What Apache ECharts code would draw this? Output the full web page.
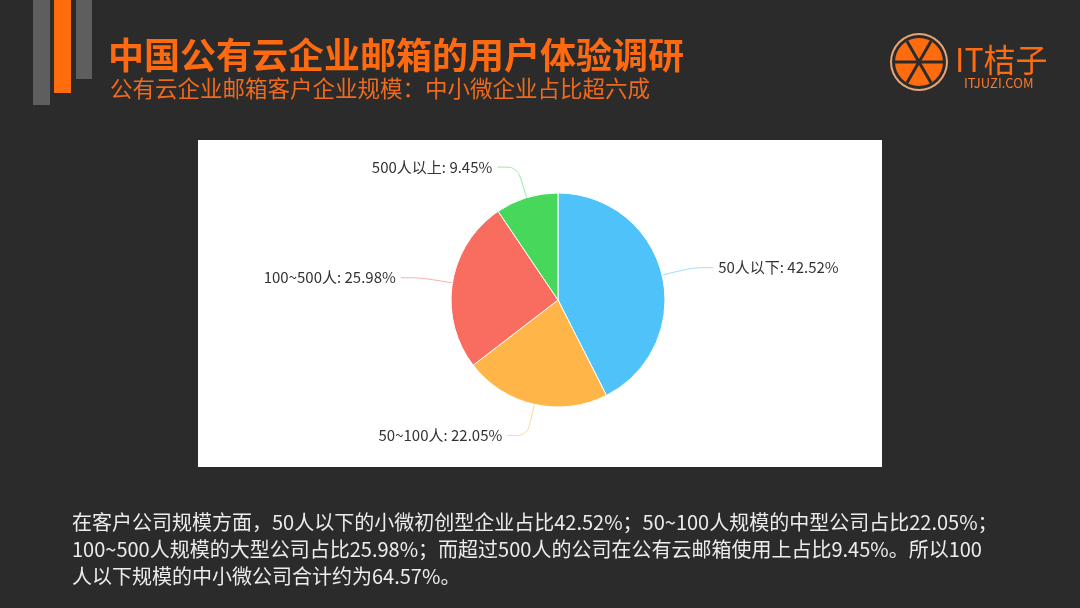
<!DOCTYPE html>
<html>
<head>
<meta charset="utf-8">
<script src="https://cdn.jsdelivr.net/npm/echarts@6/dist/echarts.min.js"></script>
<style>
  html, body { margin: 0; padding: 0; background: #2b2b2b; }
  #chart { width: 1080px; height: 608px; }
</style>
</head>
<body>
<div id="chart"></div>
<script>
// slice data
const categories = ['50人以下', '50~100人', '100~500人', '500人以上']
const values = [42.52, 22.05, 25.98, 9.45]
const colors = ['#50c2fa', '#ffb547', '#f96c60', '#47d75a']

const titleText = '中国公有云企业邮箱的用户体验调研'
const subtitleText = '公有云企业邮箱客户企业规模：中小微企业占比超六成'
const noteLines = [
  '在客户公司规模方面，50人以下的小微初创型企业占比42.52%；50~100人规模的中型公司占比22.05%；',
  '100~500人规模的大型公司占比25.98%；而超过500人的公司在公有云邮箱使用上占比9.45%。所以100',
  '人以下规模的中小微公司合计约为64.57%。'
]

const font = '"Noto Sans CJK SC", "Noto Sans", sans-serif'
const chart = echarts.init(document.getElementById('chart'))

// logo spokes
const cx = 919, cy = 62
const spokes = [0, 60, 120].map(a => {
  const r = 24, rad = a * Math.PI / 180
  return {
    type: 'line',
    shape: { x1: cx - r * Math.cos(rad), y1: cy - r * Math.sin(rad), x2: cx + r * Math.cos(rad), y2: cy + r * Math.sin(rad) },
    style: { stroke: '#2b2b2b', lineWidth: 3 },
    z: 12
  }
})

const graphics = [
  // left bars
  { type: 'rect', shape: { x: 33, y: 0, width: 17, height: 105 }, style: { fill: '#5e5e5e' } },
  { type: 'rect', shape: { x: 54, y: 0, width: 17, height: 93 }, style: { fill: '#ff6c0c' } },
  { type: 'rect', shape: { x: 76, y: 0, width: 16, height: 79 }, style: { fill: '#5e5e5e' } },
  // titles
  { type: 'text', x: 108, y: 55, style: { text: titleText, fill: '#ff6a10', font: 'bold 36px ' + font, textVerticalAlign: 'middle' } },
  { type: 'text', x: 110, y: 88, style: { text: subtitleText, fill: '#f06a1e', font: '22.5px ' + font, textVerticalAlign: 'middle' } },
  // logo
  { type: 'circle', shape: { cx: cx, cy: cy, r: 29 }, style: { fill: '#e8a577' }, z: 10 },
  { type: 'circle', shape: { cx: cx, cy: cy, r: 27 }, style: { fill: '#2b2b2b' }, z: 10 },
  { type: 'circle', shape: { cx: cx, cy: cy, r: 24 }, style: { fill: '#ff6c10' }, z: 11 },
  ...spokes,
  { type: 'text', x: 955, y: 60, style: { text: 'IT桔子', fill: '#ff6c10', font: '32px ' + font, textVerticalAlign: 'middle' } },
  { type: 'text', x: 964, y: 83, style: { text: 'ITJUZI.COM', fill: '#ff7a2a', font: '13px ' + font, textVerticalAlign: 'middle' } },
  // white panel
  { type: 'rect', shape: { x: 198, y: 140, width: 684, height: 327 }, style: { fill: '#ffffff' }, z: -1 }
]

noteLines.forEach((t, i) => {
  graphics.push({ type: 'text', x: 72, y: 522 + i * 27, style: { text: t, fill: '#ececec', font: '20px ' + font, textVerticalAlign: 'middle' } })
})

chart.setOption({
  backgroundColor: '#2b2b2b',
  color: colors,
  graphic: graphics,
  series: [{
    type: 'pie',
    center: [558, 300],
    radius: 107,
    startAngle: 90,
    z: 5,
    itemStyle: { borderColor: '#ffffff', borderWidth: 1 },
    label: {
      formatter: '{b}: {c}%',
      color: '#333',
      fontSize: 15,
      fontFamily: font
    },
    labelLine: {
      length: 32,
      length2: 20,
      smooth: 0.3,
      lineStyle: { opacity: 0.55, width: 1 }
    },
    data: categories.map((c, i) => ({ name: c, value: values[i] }))
  }]
})
</script>
</body>
</html>
